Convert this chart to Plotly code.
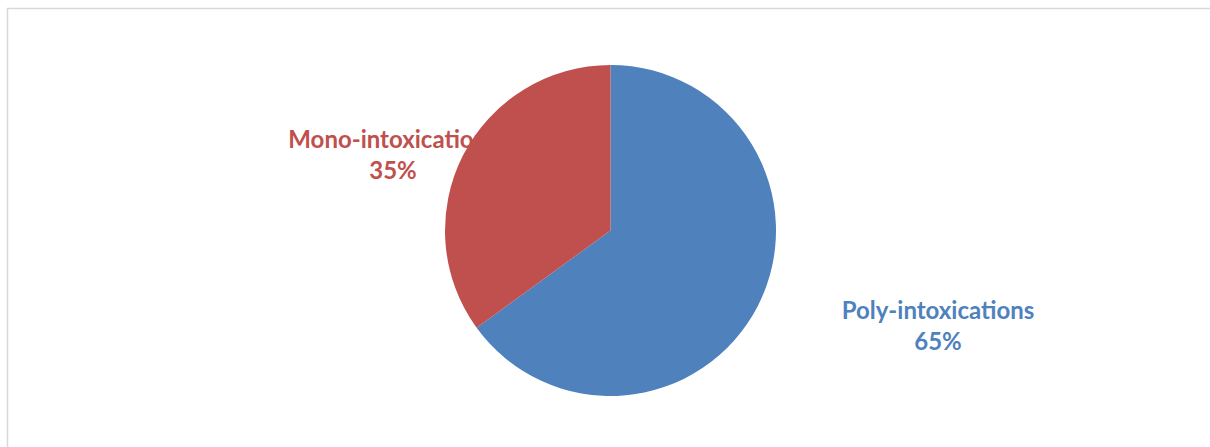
import plotly.graph_objects as go

labels = ["Poly-intoxications", "Mono-intoxications"]
values = [65, 35]
colors = ["#4F81BD", "#C0504D"]
label_x = [938, 393]     # label centre positions (px)
label_y = [313, 142]     # first-line centre (px)

W, H = 1210, 447
cx, cy, r = 610.5, 230.5, 165.5

total = sum(values)
pct = [f"{round(v / total * 100)}%" for v in values]

fig = go.Figure()

# labels drawn under the pie so the pie covers them (like the reference)
for i in range(len(labels)):
    fig.add_trace(go.Scatter(
        x=[label_x[i], label_x[i]], y=[label_y[i], label_y[i] + 31],
        mode="text", text=[labels[i], pct[i]],
        textfont=dict(family="Lato", size=24, color=colors[i], weight="bold"),
        hoverinfo="skip", showlegend=False,
    ))

fig.add_trace(go.Pie(
    labels=labels, values=values, sort=False, direction="clockwise", rotation=0,
    marker=dict(colors=colors, line=dict(width=0)),
    textinfo="none", showlegend=False,
    domain=dict(x=[(cx - r) / W, (cx + r) / W], y=[1 - (cy + r) / H, 1 - (cy - r) / H]),
))

fig.update_layout(
    width=W, height=H, margin=dict(l=0, r=0, t=0, b=0),
    paper_bgcolor="white", plot_bgcolor="white",
    xaxis=dict(range=[0, W], visible=False, fixedrange=True),
    yaxis=dict(range=[H, 0], visible=False, fixedrange=True),
    shapes=[dict(type="rect", xref="paper", yref="paper",
                 x0=7.5 / W, x1=1.01, y0=-0.05, y1=1 - 8.5 / H,
                 line=dict(color="#D9D9D9", width=1.5))],
)

fig.write_html("out.html")
